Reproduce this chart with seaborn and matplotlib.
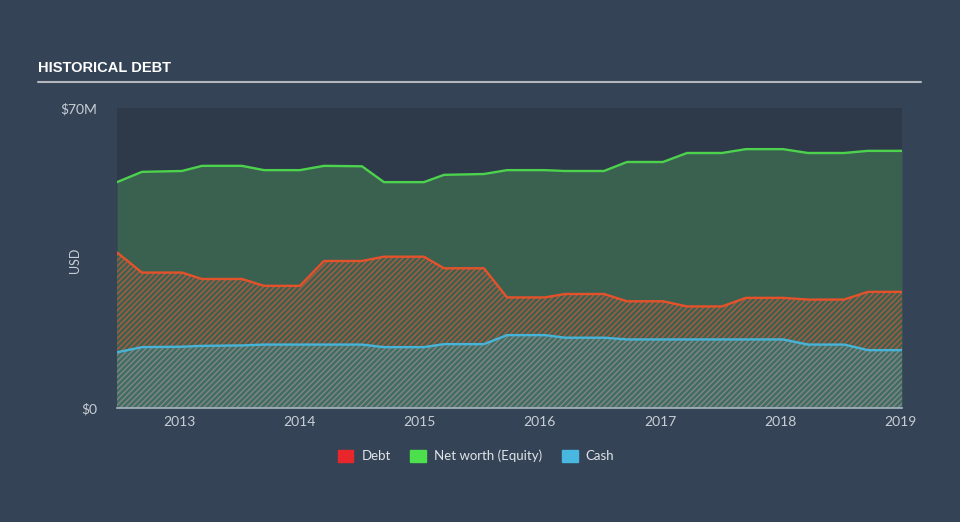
import matplotlib
matplotlib.use("Agg")
import matplotlib.pyplot as plt
import seaborn as sns
import pandas as pd

# ---- data (USD millions) ----
years = [2012.485, 2012.692, 2013.025, 2013.191, 2013.524, 2013.707, 2014.006,
         2014.205, 2014.521, 2014.704, 2015.036, 2015.203, 2015.535, 2015.727,
         2016.042, 2016.209, 2016.533, 2016.724, 2017.023, 2017.223, 2017.514,
         2017.713, 2018.021, 2018.229, 2018.528, 2018.727, 2019.010]
equity = [52.7, 55.1, 55.3, 56.5, 56.5, 55.5, 55.5, 56.5, 56.4, 52.7, 52.7, 54.4,
          54.6, 55.5, 55.5, 55.3, 55.3, 57.4, 57.4, 59.5, 59.5, 60.4, 60.4, 59.5,
          59.5, 60.0, 60.0]
debt = [36.3, 31.6, 31.6, 30.1, 30.1, 28.5, 28.5, 34.3, 34.3, 35.3, 35.3, 32.6,
        32.6, 25.8, 25.8, 26.6, 26.6, 24.9, 24.9, 23.7, 23.7, 25.7, 25.7, 25.3,
        25.3, 27.1, 27.1]
cash = [13.0, 14.2, 14.3, 14.5, 14.6, 14.8, 14.8, 14.8, 14.8, 14.2, 14.2, 14.9,
        14.9, 17.0, 17.0, 16.4, 16.4, 16.0, 16.0, 16.0, 16.0, 16.0, 16.0, 14.8,
        14.8, 13.5, 13.5]
tick_years = [2013, 2014, 2015, 2016, 2017, 2018, 2019]
legend_labels = ["Debt", "Net worth (Equity)", "Cash"]

df = pd.DataFrame({"year": years, "Equity": equity, "Debt": debt, "Cash": cash})

BG = "#344456"
PLOT_BG = "#2e3a4a"
TXT = "#c9ced5"

sns.set_style("dark")
plt.rcParams["font.family"] = ["Lato", "DejaVu Sans"]
plt.rcParams["hatch.linewidth"] = 1.0

fig = plt.figure(figsize=(9.6, 5.22), dpi=100, facecolor=BG)
ax = fig.add_axes([117/960, 1 - 408/522, (902-117)/960, 300/522])
ax.set_facecolor(PLOT_BG)

# fills
ax.fill_between(df["year"], 0, df["Equity"], color="#3a6150", lw=0, zorder=1)
ax.fill_between(df["year"], 0, df["Debt"], facecolor="#3d6150", edgecolor="#b05a3c",
                hatch="//////", lw=0, zorder=2)
ax.fill_between(df["year"], 0, df["Cash"], facecolor="#3f6e66", edgecolor="#86857e",
                hatch="//////", lw=0, zorder=3)

# lines
for col, c in [("Equity", "#4cd24c"), ("Debt", "#e4522b"), ("Cash", "#46b4d8")]:
    sns.lineplot(data=df, x="year", y=col, ax=ax, color=c, lw=1.7, zorder=5,
                 solid_joinstyle="round", solid_capstyle="round")

ax.set_xlim(years[0], years[-1])
ax.set_ylim(0, 70)
ax.set_xlabel("")
ax.set_ylabel("")
ax.grid(False)

ax.set_xticks(tick_years)
ax.set_xticklabels([str(y) for y in tick_years], color=TXT, fontsize=10)
ax.set_yticks([0, 70])
ax.set_yticklabels(["$0", "$70M"], color=TXT, fontsize=10)
ax.tick_params(axis="x", length=8, width=1, color="#a8b4c2", direction="inout", pad=2)
ax.tick_params(axis="y", length=0, pad=14)
for s in ["top", "right", "left"]:
    ax.spines[s].set_visible(False)
ax.spines["bottom"].set_color("#a8b4c2")
ax.spines["bottom"].set_linewidth(1.2)
ax.spines["bottom"].set_zorder(6)

fig.text(75/960, 1 - 260/522, "USD", rotation=90, color=TXT, fontsize=9,
         ha="center", va="center")

# title and rule
fig.text(38/960, 1 - 68/522, "HISTORICAL DEBT", color="white", fontsize=10.5,
         fontweight="bold", family=["Liberation Sans Narrow", "Liberation Sans", "DejaVu Sans"],
         ha="left", va="center")
fig.add_artist(plt.Line2D([38/960, 921/960], [1 - 81.5/522, 1 - 81.5/522],
                          color="#b4b8be", lw=1.5, transform=fig.transFigure))

# legend
handles = [plt.Rectangle((0, 0), 1, 1, color=c) for c in ["#e8262b", "#4ce04c", "#48b8e0"]]
leg = fig.legend(handles, legend_labels, loc="center", bbox_to_anchor=(476/960, 1 - 456/522),
                 ncol=3, frameon=False, fontsize=9.5, handlelength=1.2, handleheight=1.0,
                 columnspacing=1.5, handletextpad=0.6)
for t in leg.get_texts():
    t.set_color("#e0e3e7")

fig.savefig("out.png", dpi=100, facecolor=BG)
